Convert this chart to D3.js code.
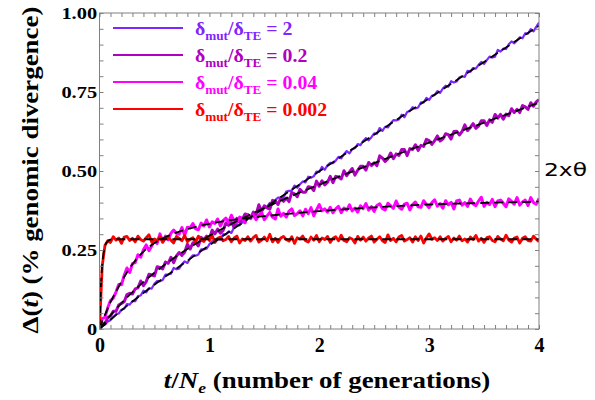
<!DOCTYPE html>
<html>
<head>
<meta charset="utf-8">
<script src="https://cdn.jsdelivr.net/npm/d3@7"></script>
<style>
  body { margin: 0; background: #fff; }
  svg { display: block; }
</style>
</head>
<body>
<svg id="chart" width="595" height="400"></svg>
<script>
// simulated divergence, sampled every 0.025 t/Ne (161 samples from 0 to 4)
const sampleStep = 0.025;

const simRatio2 = [0,.009,.014,.024,.028,.038,.047,.049,.061,.064,
  .079,.077,.088,.088,.104,.106,.121,.116,.129,.128,
  .143,.152,.151,.155,.172,.173,.175,.193,.189,.191,
  .205,.214,.209,.224,.233,.232,.236,.252,.252,.254,
  .268,.278,.274,.284,.283,.300,.299,.309,.304,.322,
  .330,.328,.338,.337,.354,.353,.355,.368,.380,.371,
  .384,.387,.399,.394,.408,.416,.416,.416,.435,.437,
  .438,.454,.447,.458,.467,.464,.482,.479,.483,.498,
  .497,.513,.504,.518,.526,.525,.533,.545,.540,.553,
  .563,.556,.569,.572,.585,.582,.595,.604,.597,.607,
  .619,.618,.636,.627,.640,.638,.651,.661,.660,.663,
  .678,.670,.687,.691,.702,.698,.701,.717,.717,.731,
  .725,.738,.741,.753,.747,.761,.770,.767,.784,.780,
  .783,.796,.800,.798,.817,.814,.826,.824,.836,.845,
  .839,.851,.862,.859,.862,.883,.878,.887,.886,.901,
  .910,.904,.913,.923,.920,.936,.935,.949,.942,.956,
  .970];

const simRatio02 = [0,.013,.018,.036,.041,.056,.056,.076,.081,.086,
  .109,.113,.111,.127,.130,.152,.137,.150,.173,.171,
  .168,.197,.195,.190,.212,.208,.227,.210,.231,.242,
  .233,.243,.268,.253,.273,.273,.263,.290,.283,.294,
  .286,.313,.301,.316,.303,.312,.335,.328,.338,.321,
  .350,.337,.347,.364,.362,.351,.370,.362,.393,.373,
  .390,.383,.379,.407,.404,.394,.414,.404,.414,.403,
  .432,.428,.419,.442,.433,.433,.450,.449,.438,.468,
  .452,.469,.456,.464,.483,.463,.483,.481,.475,.501,
  .485,.497,.508,.487,.502,.515,.515,.503,.527,.517,
  .526,.517,.548,.541,.530,.539,.557,.539,.554,.549,
  .568,.568,.549,.571,.568,.583,.565,.581,.578,.600,
  .596,.584,.596,.611,.595,.601,.618,.615,.601,.625,
  .626,.614,.625,.646,.628,.638,.650,.635,.642,.659,
  .659,.644,.662,.654,.679,.667,.679,.664,.680,.675,
  .697,.685,.695,.685,.707,.703,.695,.716,.705,.719,
  .726];

const simRatio004 = [0,.033,.037,.067,.090,.098,.117,.141,.140,.170,
  .193,.179,.207,.210,.235,.227,.251,.266,.248,.263,
  .280,.271,.301,.277,.294,.282,.303,.313,.303,.300,
  .321,.297,.322,.320,.334,.317,.314,.335,.326,.345,
  .323,.339,.334,.348,.326,.343,.351,.337,.360,.341,
  .337,.354,.351,.336,.362,.349,.361,.346,.360,.369,
  .346,.358,.369,.354,.348,.380,.357,.366,.354,.373,
  .380,.359,.365,.374,.358,.379,.365,.384,.358,.377,
  .394,.374,.380,.370,.385,.368,.380,.388,.368,.383,
  .376,.393,.374,.383,.370,.390,.381,.397,.376,.387,
  .372,.391,.396,.381,.377,.398,.390,.382,.405,.386,
  .379,.395,.398,.377,.394,.402,.387,.385,.406,.394,
  .384,.400,.409,.389,.397,.382,.406,.393,.401,.380,
  .405,.408,.392,.400,.388,.411,.396,.390,.405,.417,
  .388,.401,.394,.410,.387,.405,.408,.398,.387,.412,
  .404,.395,.416,.392,.402,.408,.391,.416,.400,.395,
  .413];

const simRatio0002 = [0,.200,.265,.279,.274,.292,.281,.288,.271,.291,
  .293,.280,.287,.276,.294,.283,.278,.289,.298,.275,
  .285,.280,.292,.274,.288,.291,.281,.272,.293,.287,
  .279,.296,.276,.284,.289,.275,.294,.281,.277,.292,
  .280,.297,.274,.287,.291,.279,.283,.293,.276,.288,
  .294,.272,.285,.280,.292,.278,.289,.296,.275,.281,
  .291,.279,.300,.276,.287,.274,.288,.293,.283,.278,
  .292,.271,.289,.285,.294,.279,.275,.291,.281,.296,
  .276,.288,.283,.293,.274,.287,.292,.279,.297,.280,
  .276,.289,.285,.272,.293,.281,.291,.278,.288,.294,
  .275,.284,.292,.279,.274,.298,.280,.287,.276,.291,
  .296,.278,.283,.289,.275,.292,.280,.294,.272,.288,
  .301,.284,.289,.280,.292,.278,.287,.293,.276,.288,
  .281,.294,.279,.285,.275,.291,.283,.296,.278,.287,
  .274,.289,.292,.280,.276,.293,.285,.279,.297,.281,
  .275,.288,.291,.272,.287,.292,.280,.278,.294,.284,
  .276];

// theoretical curves (black dashed)
const theoryT = [0, 0.01, 0.02, 0.03, 0.05, 0.075, 0.1, 0.15, 0.2, 0.3, 0.4, 0.5, 0.6, 0.7, 0.8, 1, 1.25, 1.5, 2, 2.5, 3, 3.5, 4];
const theoryRatio2 = [0,.003,.006,.009,.015,.022,.030,.044,.059,.087,.114,.140,.166,.191,.216,.265,.324,.383,.499,.615,.730,.845,.960];
const theoryRatio02 = [0,.0045,.009,.013,.022,.033,.043,.063,.082,.117,.149,.178,.205,.230,.253,.295,.341,.383,.457,.525,.590,.653,.716];
const theoryRatio004 = [0,.010,.019,.029,.045,.065,.085,.118,.150,.205,.245,.272,.291,.305,.316,.333,.347,.357,.373,.385,.394,.399,.403];
const theoryRatio0002 = [0,.112,.180,.221,.262,.278,.283,.284,.284,.284,.284,.284,.284,.284,.284,.284,.284,.284,.284,.284,.284,.284,.284];

const ratioLabels = ["2", "0.2", "0.04", "0.002"];
const seriesColors = ["#7f26ff", "#b000c0", "#ff00ff", "#ff0000"];
const traceWidths = [2.2, 3, 3, 2.8];

const xTickLabels = [0, 1, 2, 3, 4];
const yTickLabels = [0, 0.25, 0.5, 0.75, 1];
const yTickText = ["0", "0.25", "0.50", "0.75", "1.00"];

const sims = [simRatio2, simRatio02, simRatio004, simRatio0002];
const theories = [theoryRatio2, theoryRatio02, theoryRatio004, theoryRatio0002];

// pick a Times-like face if one is installed
function hasFont(name) {
  var c = document.createElement("canvas").getContext("2d");
  var s = "mmmmmmmmmmlliWW0.25 genomic";
  var diff = false;
  ["monospace", "sans-serif"].forEach(function(base) {
    c.font = "bold 40px " + base;
    var a = c.measureText(s).width;
    c.font = "bold 40px \"" + name + "\", " + base;
    if (c.measureText(s).width !== a) diff = true;
  });
  return diff;
}
var serifName = ["Liberation Serif", "Times New Roman", "Tinos", "DejaVu Serif", "FreeSerif",
  "Nimbus Roman", "Nimbus Roman No9 L", "Noto Serif", "Georgia"].find(hasFont);
var haveSerif = !!serifName;
var textFont = haveSerif ? "\"" + serifName + "\", serif" : "\"Liberation Sans\", Arial, sans-serif";
var stretch = haveSerif ? 1.17 : 0.98;   // horizontal stretch of the original lettering
var legendStretch = haveSerif ? 1.1 : 0.92;
var yStretch = haveSerif ? 1.2 : 1.0;
var sizeK = haveSerif ? 1 : 0.92;

const svg = d3.select("#chart");
const margin = {left: 99.5, right: 539, top: 13, bottom: 329};
const axisGrey = "#808080";

var x = d3.scaleLinear().domain([0, 4]).range([margin.left, margin.right]);
var y = d3.scaleLinear().domain([0, 1]).range([margin.bottom, margin.top]);
var plotW = margin.right - margin.left, plotH = margin.bottom - margin.top;

svg.append("defs").append("clipPath").attr("id", "plotClip")
  .append("rect").attr("x", margin.left).attr("y", margin.top)
  .attr("width", plotW).attr("height", plotH);

// noisy simulation traces
var line = d3.line()
  .x(function(d, i) { return x(i * sampleStep); })
  .y(function(d) { return y(d); });

var plot = svg.append("g").attr("clip-path", "url(#plotClip)");
sims.forEach(function(s, i) {
  plot.append("path")
    .datum(s)
    .attr("d", line)
    .attr("fill", "none")
    .attr("stroke", seriesColors[i])
    .attr("stroke-width", traceWidths[i])
    .attr("stroke-linejoin", "round");
});

// theory (dashed)
var theoryLine = d3.line()
  .x(function(d, i) { return x(theoryT[i]); })
  .y(function(d) { return y(d); })
  .curve(d3.curveMonotoneX);

theories.forEach(function(s) {
  plot.append("path")
    .datum(s)
    .attr("d", theoryLine)
    .attr("fill", "none")
    .attr("stroke", "#000")
    .attr("stroke-width", 1.8)
    .attr("stroke-dasharray", "9,5");
});

// ticks on all four sides, pointing inward
var xMinor = d3.range(0, 4.001, 0.1);
var yMinor = d3.range(0, 1.001, 0.05);

function styleTicks(g) {
  g.select(".domain").remove();
  g.selectAll(".tick line").attr("stroke", axisGrey);
}

svg.append("g").attr("transform", "translate(0," + margin.bottom + ")")
  .call(d3.axisBottom(x).tickValues(xMinor).tickSizeInner(-4).tickSizeOuter(0).tickFormat(""))
  .call(styleTicks);
svg.append("g").attr("transform", "translate(0," + margin.top + ")")
  .call(d3.axisTop(x).tickValues(xMinor).tickSizeInner(-4).tickSizeOuter(0).tickFormat(""))
  .call(styleTicks);
svg.append("g").attr("transform", "translate(" + margin.left + ",0)")
  .call(d3.axisLeft(y).tickValues(yMinor).tickSizeInner(-4).tickSizeOuter(0).tickFormat(""))
  .call(styleTicks);
svg.append("g").attr("transform", "translate(" + margin.right + ",0)")
  .call(d3.axisRight(y).tickValues(yMinor).tickSizeInner(-4).tickSizeOuter(0).tickFormat(""))
  .call(styleTicks);

svg.append("rect")
  .attr("x", margin.left).attr("y", margin.top)
  .attr("width", plotW).attr("height", plotH)
  .attr("fill", "none").attr("stroke", axisGrey).attr("stroke-width", 1);

// tick labels
var xLab = svg.append("g").attr("transform", "translate(0," + margin.bottom + ")")
  .call(d3.axisBottom(x).tickValues(xTickLabels).tickSize(0).tickPadding(9).tickFormat(d3.format("d")));
xLab.select(".domain").remove();
xLab.attr("font-family", textFont).attr("font-weight", "bold").attr("font-size", 20 * sizeK);
xLab.selectAll("text").attr("fill", "#000");

var yLab = svg.append("g").attr("transform", "translate(" + margin.left + ",0)")
  .call(d3.axisLeft(y).tickValues(yTickLabels).tickSize(0).tickPadding(2)
    .tickFormat(function(d, i) { return yTickText[i]; }));
yLab.select(".domain").remove();
yLab.attr("font-family", textFont).attr("font-weight", "bold").attr("font-size", 17 * sizeK);
yLab.selectAll("text").attr("fill", "#000")
  .attr("transform", "scale(" + yStretch + ",1)");

// axis titles
var yTitle = svg.append("text")
  .attr("transform", "translate(38,170) rotate(-90) scale(" + stretch + ",1)")
  .attr("text-anchor", "middle")
  .attr("font-family", textFont).attr("font-weight", "bold").attr("font-size", 23 * sizeK);
yTitle.append("tspan").text("\u0394(");
yTitle.append("tspan").attr("font-style", "italic").text("t");
yTitle.append("tspan").text(") (% genomic divergence)");

var xTitle = svg.append("text")
  .attr("transform", "translate(327,388) scale(" + stretch + ",1)")
  .attr("text-anchor", "middle")
  .attr("font-family", textFont).attr("font-weight", "bold").attr("font-size", 23 * sizeK);
xTitle.append("tspan").attr("font-style", "italic").text("t");
xTitle.append("tspan").text("/");
xTitle.append("tspan").attr("font-style", "italic").text("N");
xTitle.append("tspan").attr("font-style", "italic").attr("font-size", 15 * sizeK).attr("dy", 5).text("e");
xTitle.append("tspan").attr("dy", -5).text(" (number of generations)");

// legend
var legend = svg.append("g");
ratioLabels.forEach(function(lab, i) {
  var ly = 28 + i * 27;
  legend.append("line")
    .attr("x1", 113).attr("x2", 183).attr("y1", ly).attr("y2", ly)
    .attr("stroke", seriesColors[i]).attr("stroke-width", 2);
  var t = legend.append("text")
    .attr("transform", "translate(195," + (ly + 7) + ") scale(" + legendStretch + ",1)")
    .attr("font-family", textFont).attr("font-weight", "bold")
    .attr("font-size", 18 * sizeK).attr("fill", seriesColors[i]);
  t.append("tspan").text("\u03b4");
  t.append("tspan").attr("font-size", 12 * sizeK).attr("dy", 5).text("mut");
  t.append("tspan").attr("dy", -5).text("/\u03b4");
  t.append("tspan").attr("font-size", 12 * sizeK).attr("dy", 5).text("TE");
  t.append("tspan").attr("dy", -5).text(" = " + lab);
});

// annotation on the right
svg.append("text")
  .attr("x", 544).attr("y", 176)
  .attr("font-family", "'DejaVu Sans', sans-serif")
  .attr("font-size", 18)
  .attr("textLength", 43).attr("lengthAdjust", "spacingAndGlyphs")
  .text("2x\u03b8");
</script>
</body>
</html>
